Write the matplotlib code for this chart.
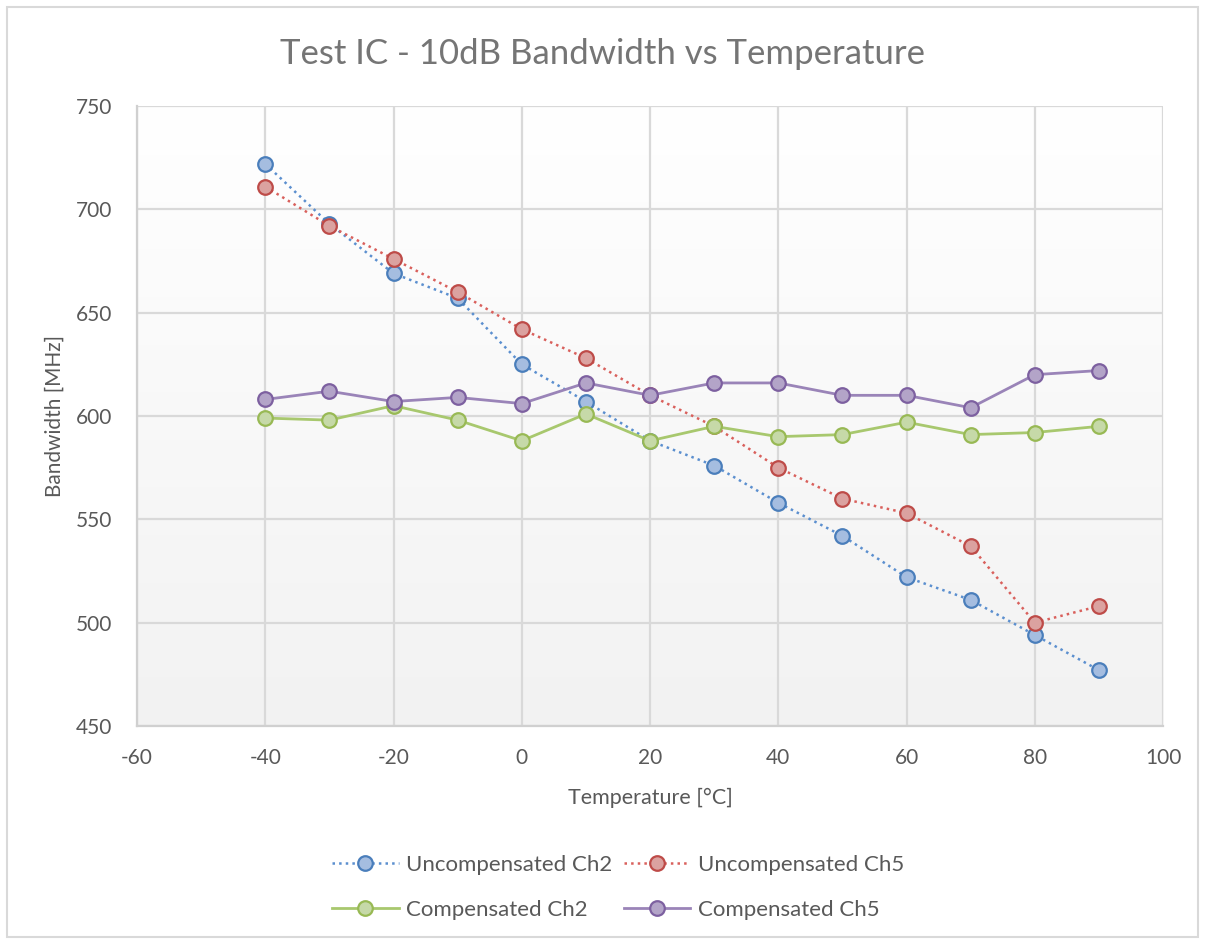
import numpy as np
import matplotlib
matplotlib.use("Agg")
import matplotlib.pyplot as plt
from matplotlib.patches import Rectangle

plt.rcParams['font.family'] = ['Lato', 'DejaVu Sans']
plt.rcParams['axes.unicode_minus'] = False

# data
temps = [-40, -30, -20, -10, 0, 10, 20, 30, 40, 50, 60, 70, 80, 90]
uncomp_ch2 = [722, 693, 669, 657, 625, 607, 588, 576, 558, 542, 522, 511, 494, 477]
uncomp_ch5 = [711, 692, 676, 660, 642, 628, 610, 595, 575, 560, 553, 537, 500, 508]
comp_ch2 = [599, 598, 605, 598, 588, 601, 588, 595, 590, 591, 597, 591, 592, 595]
comp_ch5 = [608, 612, 607, 609, 606, 616, 610, 616, 616, 610, 610, 604, 620, 622]
x_ticks = [-60, -40, -20, 0, 20, 40, 60, 80, 100]
y_ticks = [450, 500, 550, 600, 650, 700, 750]

fig = plt.figure(figsize=(12.05, 9.4), dpi=100)
# outer border of the chart
fig.patches.append(Rectangle((0.006, 0.003), 0.988, 0.99, transform=fig.transFigure,
                             fill=False, edgecolor="#d9d9d9", linewidth=1.5))
ax = fig.add_axes([0.1137, 0.2277, 0.8515, 0.6595])

# background gradient, white at top to light grey at bottom
grad = np.linspace(1.0, 0.0, 256).reshape(-1, 1)
ax.imshow(grad, extent=[0, 1, 0, 1], transform=ax.transAxes, aspect="auto",
          cmap=matplotlib.colors.LinearSegmentedColormap.from_list("bg", ["#f2f2f2", "#ffffff"]),
          zorder=0)

series = [
    (uncomp_ch2, "Uncompensated Ch2", "#5b8fcf", "#4a7ebb", "#a5bde0", ":"),
    (uncomp_ch5, "Uncompensated Ch5", "#d9605c", "#be4b48", "#dba2a0", ":"),
    (comp_ch2, "Compensated Ch2", "#a8c86e", "#98b954", "#c6d9a8", "-"),
    (comp_ch5, "Compensated Ch5", "#9a84b8", "#7d60a0", "#b3a4c8", "-"),
]
lines = []
for vals, name, lc, ec, fc, ls in series:
    ln, = ax.plot(temps, vals, linestyle=ls, color=lc, linewidth=2 if ls == "-" else 1.8,
                  marker="o", markersize=10.5, markerfacecolor=fc, markeredgecolor=ec,
                  markeredgewidth=1.6, label=name, zorder=3)
    lines.append(ln)

ax.set_xlim(-60, 100)
ax.set_ylim(450, 750)
ax.set_xticks(x_ticks)
ax.set_yticks(y_ticks)
ax.grid(True, color="#d9d9d9", linewidth=1.6, zorder=1)
ax.set_axisbelow(True)
for s in ["top", "right"]:
    ax.spines[s].set_visible(False)
for s in ["left", "bottom"]:
    ax.spines[s].set_color("#d0d0d0")
    ax.spines[s].set_linewidth(1.6)
ax.tick_params(length=0, labelsize=15, labelcolor="#595959")
ax.tick_params(axis="x", pad=16)
ax.tick_params(axis="y", pad=18)

ax.set_xlabel("Temperature [°C]", fontsize=15.5, color="#595959", labelpad=14)
ax.set_ylabel("Bandwidth [MHz]", fontsize=15, color="#595959", labelpad=8)
fig.suptitle("Test IC - 10dB Bandwidth vs Temperature", fontsize=25, color="#757575",
             y=0.96)

# legend filled row-wise like the reference
order = [0, 2, 1, 3]
fig.legend([lines[i] for i in order], [series[i][1] for i in order],
           loc="center", bbox_to_anchor=(0.513, 0.056), ncol=2, frameon=False,
           fontsize=16, labelcolor="#595959", handlelength=3.0, handletextpad=0.35,
           columnspacing=0.5, labelspacing=1.15)

fig.savefig("out.png", dpi=100)
